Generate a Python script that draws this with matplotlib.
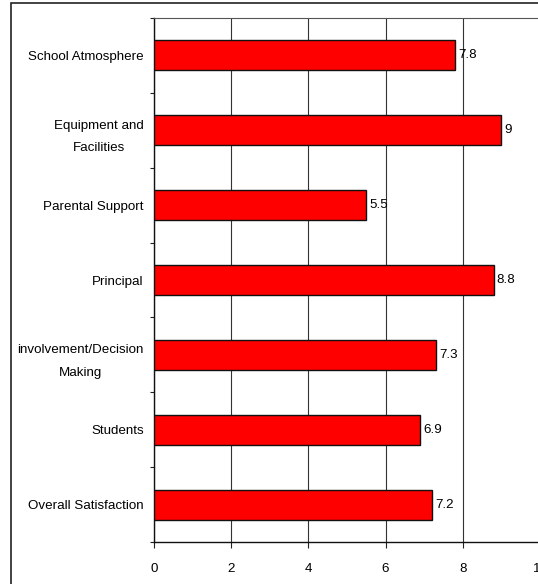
import matplotlib
matplotlib.use("Agg")
import matplotlib.pyplot as plt
from matplotlib.patches import Rectangle

# survey categories, listed top to bottom
categories = [
    "School Atmosphere",
    "Equipment and\nFacilities",
    "Parental Support",
    "Principal",
    "involvement/Decision\nMaking",
    "Students",
    "Overall Satisfaction",
]
scores = [7.8, 9, 5.5, 8.8, 7.3, 6.9, 7.2]
score_labels = ["7.8", "9", "5.5", "8.8", "7.3", "6.9", "7.2"]
xticks = [0, 2, 4, 6, 8, 10]

plt.rcParams["font.family"] = ["Liberation Sans Narrow", "Liberation Sans", "DejaVu Sans"]
FS = 9.6

fig = plt.figure(figsize=(5.38, 5.84), dpi=100)
fig.patch.set_facecolor("white")

# outer chart border (runs off the right/bottom edge)
fig.patches.append(Rectangle((11 / 538, -0.05), 1.2, (584 - 3) / 584 + 0.05,
                             transform=fig.transFigure, fill=False,
                             edgecolor="#222222", linewidth=1.2))

ax = fig.add_axes([154 / 538, 42 / 584, 386 / 538, 524 / 584])

n = len(categories)
ypos = [n - 1 - i for i in range(n)]
ax.barh(ypos, scores, height=0.4, color="#ff0000", edgecolor="#111111",
        linewidth=1.0, zorder=3)

for y, v, lab in zip(ypos, scores, score_labels):
    ax.text(v + 0.08, y, lab, va="center", ha="left", fontsize=FS, zorder=4)

ax.set_xlim(0, 10)
ax.set_ylim(-0.5, n - 0.5)
ax.set_xticks(xticks)
ax.set_xticklabels([str(t) for t in xticks], fontsize=FS)
ax.xaxis.grid(True, color="#333333", linewidth=0.8, zorder=0)

# category labels centred on bars, tick marks between them
ax.set_yticks(ypos)
ax.set_yticklabels(categories, fontsize=FS, ha="right",
                   multialignment="center", linespacing=2.15)
ax.tick_params(axis="y", length=0, pad=7.5)
ax.set_yticks([i - 0.5 for i in range(n + 1)], minor=True)
ax.tick_params(axis="y", which="minor", length=3, width=0.8, color="#222222")
ax.tick_params(axis="x", length=4, width=0.8, color="#222222", pad=11)

for side in ("left", "bottom"):
    ax.spines[side].set_color("#111111")
    ax.spines[side].set_linewidth(1.0)
ax.spines["top"].set_color("#555555")
ax.spines["top"].set_linewidth(0.8)
ax.spines["right"].set_visible(False)

fig.savefig("out.png", dpi=100)
